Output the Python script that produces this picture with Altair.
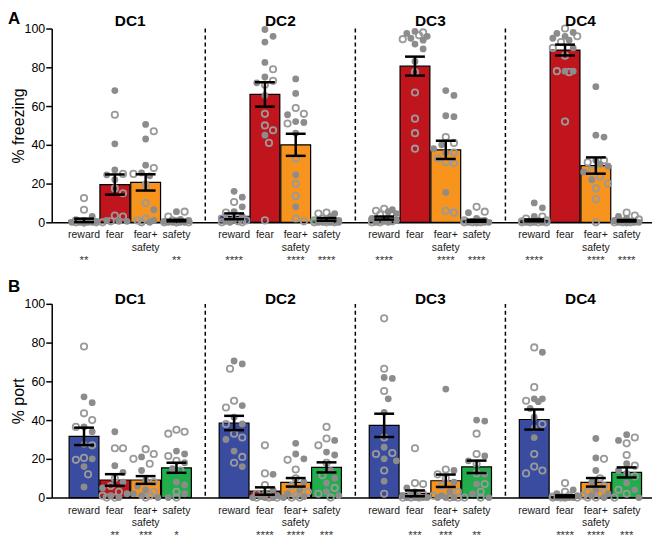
import altair as alt
import pandas as pd

FONT = "Liberation Sans"
GROUPS = ["DC1", "DC2", "DC3", "DC4"]
CONDS = ["reward", "fear", "fear+safety", "safety"]
LABELS = ["reward", "fear", "fear+\nsafety", "safety"]
COLORS = ["#3a4ca0", "#c1151e", "#f7941d", "#21ad4b"]

# ---- Panel A: % freezing (mean, SEM per group x condition) ----
FRZ_MEAN = [[1.0, 19.5, 20.6, 0.9], [3.1, 66.0, 40.0, 1.5], [2.2, 80.6, 37.4, 0.8], [1.0, 88.9, 29.3, 0.8]]
FRZ_SEM = [[0.9, 5.2, 4.2, 0.4], [1.5, 6.3, 5.7, 0.7], [0.8, 4.9, 4.7, 0.5], [0.5, 2.8, 4.2, 0.4]]
FRZ_STARS = [["**", "", "", "**"], ["****", "", "****", "****"], ["****", "", "****", "****"], ["****", "", "****", "****"]]

FRZ_FILLED_DC1 = [[3, 1, 0.5, 0, 0, 0, 0, 0], [68, 40.5, 27, 24.5, 22, 1, 0.5, 0.5], [50.5, 43, 29.5, 25.5, 24, 6.5, 1, 0], [5.5, 1.5, 1, 0.5, 0, 0, 0, 0]]
FRZ_OPEN_DC1 = [[12.5, 6.5, 1, 0, 0, 0, 0, 0], [55.5, 25, 17.5, 15, 3.5, 3, 0.5, 0], [47, 28, 25, 19.5, 10, 2, 1, 0], [5.5, 3, 1, 0.5, 0, 0, 0, 0]]
FRZ_FILLED_DC2 = [[16, 13, 8, 5.5, 3, 1.5, 0.5, 0], [99.5, 96, 93, 82.5, 75, 72, 65.5, 45], [74, 66.5, 55.5, 52, 51.5, 46, 24.5, 8], [4.5, 3, 1, 0.5, 0, 0, 0, 0]]
FRZ_OPEN_DC2 = [[10.5, 5, 3, 2, 1, 0.5, 0, 0], [79, 73, 71, 56, 50, 47.5, 41, 1], [59, 56, 51, 33, 20, 13.5, 2, 0.5], [5, 4.5, 2, 1, 0.5, 0, 0, 0]]
FRZ_FILLED_DC3 = [[6.5, 5.5, 4.5, 2, 1, 0.5, 0, 0], [98.5, 97.5, 96, 95, 94, 92, 89.5, 83], [68, 65.5, 55, 54.5, 40, 38, 36, 15.5], [5, 2, 1, 0.5, 0, 0, 0, 0]]
FRZ_OPEN_DC3 = [[7, 6, 4, 2, 1, 0.5, 0, 0], [98, 96.5, 94.5, 77.5, 67, 53.5, 46, 38], [44, 41, 36, 33, 31, 30.5, 6, 5], [8, 5.5, 1, 0.5, 0, 0, 0, 0]]
FRZ_FILLED_DC4 = [[10, 7.5, 3, 1, 0.5, 0, 0, 0], [98, 97.5, 96, 95, 94, 90, 78, 78], [70, 45, 44, 32, 30, 29, 26, 22], [3, 2, 1, 0.5, 0, 0, 0, 0]]
FRZ_OPEN_DC4 = [[3, 2, 1, 0.5, 0, 0, 0, 0], [100, 96, 93, 90, 86, 78, 77.5, 52], [32, 31, 27, 23.5, 20, 17.5, 12, 0], [5, 3.5, 1.5, 0.5, 0, 0, 0, 0]]

# ---- Panel B: % port ----
PORT_MEAN = [[31.6, 9.1, 9.1, 15.4], [38.5, 3.4, 7.9, 15.6], [37.3, 2.2, 8.7, 15.9], [40.3, 0.7, 7.9, 13.0]]
PORT_SEM = [[4.5, 3.0, 2.0, 2.6], [3.7, 1.9, 2.2, 2.6], [6.0, 1.5, 3.2, 3.2], [5.2, 0.5, 2.2, 2.6]]
PORT_STARS = [["", "**", "***", "*"], ["", "****", "****", "***"], ["", "***", "***", "**"], ["", "****", "****", "***"]]

PORT_FILLED_DC1 = [[52, 49, 36.5, 34, 27.5, 20, 16, 5.5], [34, 16.5, 13, 8, 5, 2, 1, 0], [21, 14, 9, 6, 4, 2, 1, 0], [24, 22.5, 18, 15, 8, 6.5, 2, 0]]
PORT_OPEN_DC1 = [[78, 43.5, 40, 36.5, 27, 20.5, 19.5, 12], [25.5, 25.5, 10, 6, 3, 1, 0, 0], [25, 22.5, 20, 17.5, 8, 3, 1, 0], [35, 34, 33, 21.5, 19, 14, 3, 0]]
PORT_FILLED_DC2 = [[70.5, 69, 47.5, 41.5, 38, 30, 24, 16], [12, 4, 2, 1, 0.5, 0, 0, 0], [28, 22.5, 20, 8, 4, 2, 0.5, 0], [29.5, 23.5, 22, 14, 10, 7.5, 3, 1]]
PORT_OPEN_DC2 = [[66.5, 50, 46.5, 38, 33, 31, 21, 18], [27, 12.5, 6.5, 2, 1, 0, 0, 0], [19.5, 14.5, 10, 6, 3, 1, 0, 0], [36.5, 30.5, 27, 18, 11.5, 5, 2, 0]]
PORT_FILLED_DC3 = [[62, 61.5, 51, 44, 26, 20, 19, 8.5], [5, 3, 1, 0.5, 0, 0, 0, 0], [56, 14, 8, 3, 1, 0, 0, 0], [40, 39.5, 21.5, 19, 12, 7, 2, 0]]
PORT_OPEN_DC3 = [[92.5, 66.5, 55, 31, 23, 22.5, 14, 2], [25.5, 7.5, 7, 2, 1, 0, 0, 0], [14.5, 12, 10, 6, 3, 1, 0, 0], [33, 22.5, 17.5, 12.5, 7, 3, 0, 0]]
PORT_FILLED_DC4 = [[75, 51, 51, 49.5, 46, 41.5, 36, 31], [4, 2, 1, 0.5, 0, 0, 0, 0], [30.5, 20.5, 14, 8, 4, 2, 1, 0], [32.5, 29.5, 17.5, 14, 12.5, 7.5, 4, 0]]
PORT_OPEN_DC4 = [[77.5, 57, 50, 38, 22.5, 16, 14, 12.5], [7.5, 3, 1, 0.5, 0, 0, 0, 0], [20, 10, 6, 3, 2, 1, 0, 0], [31, 28, 22, 16.5, 11, 4, 2, 0]]

# ---- layout constants (slot units = px of plot width) ----
W, H = 604, 195
X_START, GROUP_STEP, BAR_STEP, BAR_W, CAP_W = 32.5, 151.0, 31.0, 30.0, 20.0
PX_PER_UNIT = H / 100.0
DOT = 8.2


def swarm(values):
    """Deterministic beeswarm offsets (px) like Prism scatter."""
    cands = [0.0]
    for k in range(1, 5):
        cands += [k * DOT / 2, -k * DOT / 2]
    cands = [c for c in cands if abs(c) <= 12.5]
    order = sorted(range(len(values)), key=lambda i: -values[i])
    placed, offs = [], [0.0] * len(values)
    for i in order:
        yp = values[i] * PX_PER_UNIT
        chosen = None
        for c in cands:
            if all((c - px) ** 2 + (yp - py) ** 2 >= DOT * DOT for px, py in placed):
                chosen = c
                break
        if chosen is None:
            chosen = max(cands, key=lambda c: min((c - px) ** 2 + (yp - py) ** 2 for px, py in placed))
        placed.append((chosen, yp))
        offs[i] = chosen
    return offs


def panel(letter, letter_y, ytitle, means, sems, filled, opened, stars, title_y, dash_top):
    bars, pts, dashes, titles = [], [], [], []
    for g in range(4):
        for b in range(4):
            cx = X_START + g * GROUP_STEP + b * BAR_STEP
            m, s = means[g][b], sems[g][b]
            bars.append(dict(cond=CONDS[b], cx=cx, x0=cx - BAR_W / 2, x1=cx + BAR_W / 2,
                             mean=m, base=0.0, lo=max(m - s, 0.0), hi=m + s,
                             c0=cx - CAP_W / 2, c1=cx + CAP_W / 2,
                             label=LABELS[b], stars=stars[g][b]))
            vals = list(filled[g][b]) + list(opened[g][b])
            kinds = ["filled"] * len(filled[g][b]) + ["open"] * len(opened[g][b])
            offs = swarm(vals)
            for v, k, o in zip(vals, kinds, offs):
                pts.append(dict(x=cx + o, y=v, kind=k))
        titles.append(dict(group=GROUPS[g], cx=X_START + g * GROUP_STEP + 1.5 * BAR_STEP))
        if g < 3:
            dashes.append(dict(x=X_START + g * GROUP_STEP + (3 * BAR_STEP + GROUP_STEP) / 2, y0=1.0, y1=dash_top))
    bdf, pdf_, ddf, tdf = pd.DataFrame(bars), pd.DataFrame(pts), pd.DataFrame(dashes), pd.DataFrame(titles)

    xs = alt.Scale(domain=[0, W], nice=False, zero=False)
    ys = alt.Scale(domain=[0, 100], nice=False)
    xaxis = alt.Axis(labels=False, ticks=False, title=None, grid=False, domainColor="black", domainWidth=1.5)
    yaxis = alt.Axis(values=[0, 20, 40, 60, 80, 100], title=ytitle, grid=False, domainColor="black",
                     domainWidth=1.5, tickColor="black", tickWidth=1.5, tickSize=6, labelFontSize=12.5,
                     labelColor="black", labelPadding=1, titleFontSize=16, titleFontWeight="normal",
                     titleColor="black", titlePadding=-2, labelFont=FONT, titleFont=FONT)

    def X(f):
        return alt.X(f, scale=xs, axis=xaxis)

    def Y(f):
        return alt.Y(f, scale=ys, axis=yaxis)

    bar_layer = alt.Chart(bdf).mark_rect(stroke="black", strokeWidth=1.2).encode(
        x=X("x0:Q"), x2="x1:Q", y=Y("mean:Q"), y2="base:Q",
        color=alt.Color("cond:N", scale=alt.Scale(domain=CONDS, range=COLORS), legend=None))
    open_layer = alt.Chart(pdf_).transform_filter(alt.datum.kind == "open").mark_point(
        shape="circle", filled=False, size=41, stroke="#9a9a9a", strokeWidth=1.8, opacity=1).encode(
        x=X("x:Q"), y=Y("y:Q"))
    fill_layer = alt.Chart(pdf_).transform_filter(alt.datum.kind == "filled").mark_point(
        shape="circle", filled=True, size=47, color="#8c8c8c", opacity=1).encode(
        x=X("x:Q"), y=Y("y:Q"))
    err_v = alt.Chart(bdf).mark_rule(color="black", strokeWidth=2.5).encode(
        x=X("cx:Q"), y=Y("lo:Q"), y2="hi:Q")
    cap_hi = alt.Chart(bdf).mark_rule(color="black", strokeWidth=2.5).encode(
        x=X("c0:Q"), x2="c1:Q", y=Y("hi:Q"))
    cap_lo = alt.Chart(bdf).mark_rule(color="black", strokeWidth=2.5).encode(
        x=X("c0:Q"), x2="c1:Q", y=Y("lo:Q"))
    dash_layer = alt.Chart(ddf).mark_rule(color="black", strokeWidth=1.5, strokeDash=[4, 3]).encode(
        x=X("x:Q"), y=Y("y0:Q"), y2="y1:Q")
    title_layer = alt.Chart(tdf).mark_text(font=FONT, fontSize=15.5, fontWeight="bold", baseline="alphabetic",
                                           color="black").encode(
        x=X("cx:Q"), y=alt.value(title_y), text="group:N")
    label_layer = alt.Chart(bdf).mark_text(font=FONT, fontSize=10.5, lineBreak="\n", lineHeight=13,
                                           baseline="alphabetic", color="#1a1a1a").encode(
        x=X("cx:Q"), y=alt.value(H + 16), text="label:N")
    star_layer = alt.Chart(bdf).mark_text(font=FONT, fontSize=11.5, baseline="alphabetic", color="#333333").encode(
        x=X("cx:Q"), y=alt.value(H + 42), text="stars:N")
    letter_layer = alt.Chart(pd.DataFrame({"t": [letter]})).mark_text(
        font=FONT, fontSize=17, fontWeight="bold", align="left", baseline="alphabetic", color="black").encode(
        x=alt.value(-44), y=alt.value(letter_y), text="t:N")

    return alt.layer(bar_layer, open_layer, fill_layer, err_v, cap_hi, cap_lo, dash_layer,
                     title_layer, label_layer, star_layer, letter_layer).properties(width=W, height=H)


panel_a = panel("A", -5, "% freezing", FRZ_MEAN, FRZ_SEM,
                [FRZ_FILLED_DC1, FRZ_FILLED_DC2, FRZ_FILLED_DC3, FRZ_FILLED_DC4],
                [FRZ_OPEN_DC1, FRZ_OPEN_DC2, FRZ_OPEN_DC3, FRZ_OPEN_DC4],
                FRZ_STARS, -2.5, 101.5)
panel_b = panel("B", -12, "% port", PORT_MEAN, PORT_SEM,
                [PORT_FILLED_DC1, PORT_FILLED_DC2, PORT_FILLED_DC3, PORT_FILLED_DC4],
                [PORT_OPEN_DC1, PORT_OPEN_DC2, PORT_OPEN_DC3, PORT_OPEN_DC4],
                PORT_STARS, 0.5, 100.5)

chart = alt.vconcat(panel_a, panel_b, spacing=82, bounds="flush").properties(
    padding={"left": 0, "top": 0, "right": 0, "bottom": 0}
).configure(font=FONT).configure_view(stroke=None)

chart.save("out.html", embed_options={"renderer": "svg", "actions": False})
